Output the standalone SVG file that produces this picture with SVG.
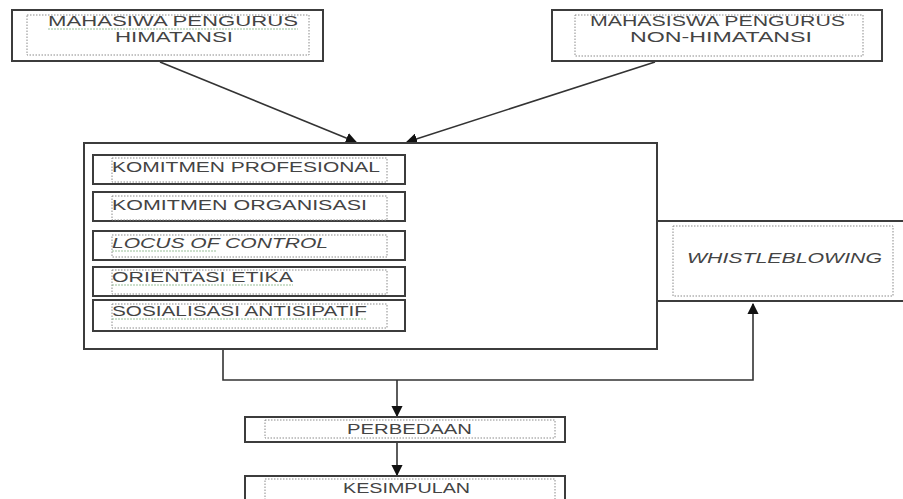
<svg xmlns="http://www.w3.org/2000/svg" width="903" height="499" viewBox="0 0 903 499">
<style>
.box{fill:#fff;stroke:#3c3c3c;stroke-width:2}
.inner{fill:none;stroke:#8a8a8a;stroke-width:1;stroke-dasharray:1.5 1.5}
.t{font-family:"Liberation Sans",Arial,sans-serif;font-size:14px;fill:#444}
.i{font-style:italic}
.c{fill:none;stroke:#333;stroke-width:1.6}
.w{fill:none;stroke:#7fae7f;stroke-width:0.8;stroke-dasharray:2 1}
</style>
<defs>
<marker id="ah" viewBox="0 0 10 10" refX="9" refY="5" markerWidth="7" markerHeight="7" orient="auto-start-reverse" markerUnits="strokeWidth">
<path d="M0,0 L10,5 L0,10 z" fill="#111"/>
</marker>
</defs>
<rect width="903" height="499" fill="#fff"/>

<g id="connectors">
<line class="c" x1="160" y1="62" x2="356" y2="142" marker-end="url(#ah)"/>
<line class="c" x1="655" y1="62" x2="407" y2="142" marker-end="url(#ah)"/>
<line class="c" x1="418" y1="167" x2="640" y2="262"/>
<line class="c" x1="422" y1="207" x2="640" y2="262"/>
<line class="c" x1="415" y1="247" x2="640" y2="262"/>
<line class="c" x1="408" y1="286" x2="640" y2="262"/>
<line class="c" x1="408" y1="320" x2="640" y2="262"/>
<path d="M633,256 L649,262 L633,268 z" fill="#111"/>
<polyline class="c" points="223,349 223,380 753,380 753,304" marker-end="url(#ah)"/>
<line class="c" x1="397" y1="380" x2="397" y2="416" marker-end="url(#ah)"/>
<line class="c" x1="397" y1="442" x2="397" y2="475" marker-end="url(#ah)"/>
</g>

<g id="node-himatansi">
<rect class="box" x="12" y="10" width="311" height="51"/>
<rect class="inner" x="27" y="15" width="282" height="40"/>
<text class="t" x="48" y="26" textLength="250" lengthAdjust="spacingAndGlyphs">MAHASIWA  PENGURUS</text>
<path class="w" d="M48,29 H298"/>
<text class="t" x="115" y="42" textLength="118" lengthAdjust="spacingAndGlyphs">HIMATANSI</text>
</g>

<g id="node-non-himatansi">
<rect class="box" x="552" y="10" width="330" height="51"/>
<rect class="inner" x="575" y="15" width="288" height="41"/>
<text class="t" x="590" y="26" textLength="255" lengthAdjust="spacingAndGlyphs">MAHASISWA PENGURUS</text>
<text class="t" x="630" y="42" textLength="182" lengthAdjust="spacingAndGlyphs">NON-HIMATANSI</text>
</g>

<g id="node-variables">
<rect class="box" x="84" y="143" width="573" height="206"/>
</g>

<g id="node-komitmen-profesional">
<rect class="box" x="93" y="155" width="312" height="29"/>
<rect class="inner" x="112" y="158" width="275" height="24"/>
<text class="t" x="112" y="172" textLength="268" lengthAdjust="spacingAndGlyphs">KOMITMEN PROFESIONAL</text>
</g>

<g id="node-komitmen-organisasi">
<rect class="box" x="93" y="192" width="312" height="29"/>
<rect class="inner" x="112" y="196" width="275" height="24"/>
<text class="t" x="112" y="210" textLength="255" lengthAdjust="spacingAndGlyphs">KOMITMEN ORGANISASI</text>
</g>

<g id="node-locus-of-control">
<rect class="box" x="93" y="231" width="312" height="29"/>
<rect class="inner" x="112" y="235" width="275" height="22"/>
<text class="t i" x="112" y="248" textLength="216" lengthAdjust="spacingAndGlyphs">LOCUS OF  CONTROL</text>
<path class="w" d="M112,251 H216"/>
</g>

<g id="node-orientasi-etika">
<rect class="box" x="93" y="267" width="312" height="29"/>
<rect class="inner" x="112" y="270" width="275" height="24"/>
<text class="t" x="112" y="282" textLength="181" lengthAdjust="spacingAndGlyphs">ORIENTASI ETIKA</text>
<path class="w" d="M112,285 H293"/>
</g>

<g id="node-sosialisasi-antisipatif">
<rect class="box" x="93" y="300" width="312" height="31"/>
<rect class="inner" x="112" y="304" width="275" height="24"/>
<text class="t" x="112" y="316" textLength="255" lengthAdjust="spacingAndGlyphs">SOSIALISASI ANTISIPATIF</text>
<path class="w" d="M112,319 H367"/>
</g>

<g id="node-whistleblowing">
<rect class="box" x="657" y="221" width="260" height="80"/>
<rect class="inner" x="673" y="226" width="220" height="70"/>
<text class="t i" x="687" y="263" textLength="195" lengthAdjust="spacingAndGlyphs">WHISTLEBLOWING</text>
</g>

<g id="node-perbedaan">
<rect class="box" x="245" y="417" width="320" height="25"/>
<rect class="inner" x="265" y="420" width="290" height="18"/>
<text class="t" x="347" y="434" textLength="125" lengthAdjust="spacingAndGlyphs">PERBEDAAN</text>
</g>

<g id="node-kesimpulan">
<rect class="box" x="245" y="476" width="320" height="28"/>
<rect class="inner" x="265" y="479" width="290" height="22"/>
<text class="t" x="343" y="493" textLength="127" lengthAdjust="spacingAndGlyphs">KESIMPULAN</text>
</g>
</svg>
